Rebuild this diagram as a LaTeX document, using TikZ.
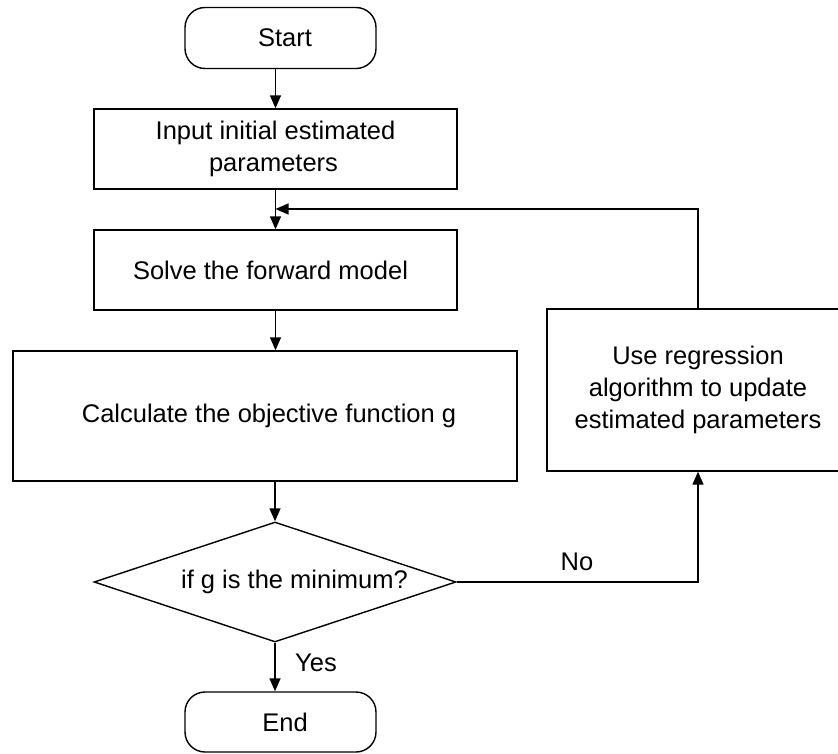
\documentclass[tikz,border=0pt]{standalone}
\usepackage{fontspec}
\setmainfont{Liberation Sans}
\usetikzlibrary{shapes.geometric,arrows.meta,calc}
\begin{document}
\begin{tikzpicture}[x=1pt,y=-1pt,
  every node/.style={font=\fontsize{25.5}{32}\selectfont},
  base/.style={draw=black,line width=1.4pt,inner sep=0pt,fill=white},
  boxnode/.style={base,rectangle,align=center},
  term/.style={base,rectangle,rounded corners=20pt,minimum width=191pt,minimum height=61pt},
  decide/.style={base,diamond,minimum width=362pt,minimum height=120pt},
  conn/.style={line width=1.4pt,-{Triangle[length=13pt,width=11pt]}},
  lbl/.style={inner sep=0pt}
]
\useasboundingbox[fill=white] (0,0) rectangle (838,753);
\node[term] (start) at (280.5,38) {\hspace*{9pt}Start};
\node[boxnode,minimum width=363pt,minimum height=80pt] (in) at (275.5,149) {Input initial estimated\\parameters\hspace*{4pt}};
\node[boxnode,minimum width=363pt,minimum height=80pt] (solve) at (275.5,270) {Solve the forward model\hspace*{10pt}};
\node[boxnode,minimum width=504pt,minimum height=130pt] (calc) at (265,416) {\hspace*{8pt}Calculate the objective function g};
\node[decide] (dia) at (275,582) {};
\node[lbl] (diatext) at (294.5,582) {if g is the minimum?};
\node[term,minimum height=60pt] (end) at (280.5,722) {\hspace*{9pt}End};
\node[boxnode,minimum width=302pt,minimum height=162pt] (reg) at (698,390) {Use regression\\algorithm to update\\estimated parameters};
\coordinate (fb) at (275.5,209);
\node[lbl] (no) at (577,562) {No};
\node[lbl] (yes) at (316,663) {Yes};

\draw[conn] (start.south -| in.north) -- (in.north);
\draw[conn] (in.south) -- (solve.north);
\draw[conn] (solve.south) -- (solve.south |- calc.north);
\draw[conn] (dia.north |- calc.south) -- (dia.north);
\draw[conn] (dia.south) -- (dia.south |- end.north);
\draw[conn] (dia.east) -- (reg.south |- dia.east) -- (reg.south);
\draw[conn] (reg.north) -- (reg.north |- fb) -- (fb);
\end{tikzpicture}
\end{document}
